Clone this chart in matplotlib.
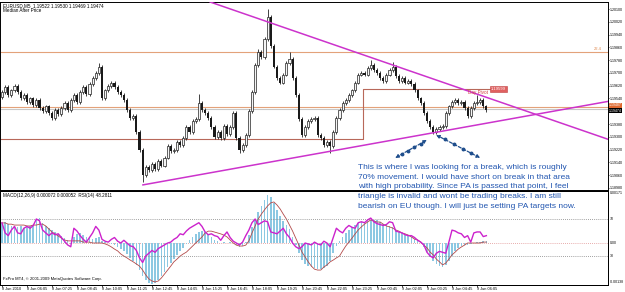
import numpy as np
import matplotlib
matplotlib.use("Agg")
import matplotlib.pyplot as plt

W, H = 625, 292

# ---- EURUSD M5 chart, drawn as 10-minute candles from 8 Jun 04:45 ----
first_open = 1.1955
closes = [
    1.1958, 1.1961, 1.1956, 1.1959, 1.1962, 1.1958, 1.1954, 1.1956, 1.1952, 1.1954,
    1.1950, 1.1953, 1.1948, 1.1946, 1.1949, 1.1945, 1.1942, 1.1947, 1.1944, 1.1948,
    1.1951, 1.1947, 1.1953, 1.1956, 1.1952, 1.1958, 1.1961, 1.1957, 1.1963, 1.1967,
    1.1970, 1.1974, 1.1954, 1.1959, 1.1962, 1.1964, 1.1961, 1.1958, 1.1956, 1.1953,
    1.1947, 1.1942, 1.1943, 1.1933, 1.1922, 1.1906, 1.1911, 1.1909, 1.1913, 1.1910,
    1.1915, 1.1912, 1.1917, 1.1924, 1.1921, 1.1922, 1.1927, 1.1925, 1.1929, 1.1936,
    1.1933, 1.1940, 1.1941, 1.1951, 1.1947, 1.1945, 1.1942, 1.1936, 1.1930, 1.1933,
    1.1929, 1.1937, 1.1932, 1.1936, 1.1945, 1.1929, 1.1922, 1.1925, 1.1931, 1.1946,
    1.1958, 1.1975, 1.1983, 1.1980, 1.1991, 1.2005, 1.1987, 1.1974, 1.1967, 1.1964,
    1.1969, 1.1976, 1.1979, 1.1967, 1.1956, 1.1941, 1.1931, 1.1936, 1.1940, 1.1941,
    1.1942, 1.1931, 1.1929, 1.1925, 1.1927, 1.1924, 1.1933, 1.1942, 1.1947, 1.1951,
    1.1953, 1.1956, 1.1959, 1.1964, 1.1969, 1.1970, 1.1969, 1.1973, 1.1975, 1.1972,
    1.1970, 1.1967, 1.1965, 1.1969, 1.1972, 1.1974, 1.1968, 1.1965, 1.1967, 1.1964,
    1.1965, 1.1963, 1.1959, 1.1954, 1.1951, 1.1945, 1.1940, 1.1936, 1.1933, 1.1935,
    1.1936, 1.1937, 1.1945, 1.1949, 1.1952, 1.1953, 1.1951, 1.1952, 1.1948, 1.1943,
    1.1948, 1.1951, 1.1952, 1.1953, 1.1949, 1.1947,
]
spike_highs = {31: 1.1976, 63: 1.1957, 82: 1.1985, 85: 1.2010, 92: 1.1983,
               118: 1.1978, 125: 1.1977, 152: 1.1956}
spike_lows = {45: 1.1902, 76: 1.1920, 105: 1.1920, 139: 1.1932}

# MACD(12,26,9) main (histogram) and signal, in 1e-5 units
macd_e5 = [
    66, 69, 62, 56, 53, 53, 56, 49, 53, 56,
    59, 79, 82, 66, 56, 49, 43, 36, 30, 23,
    16, 10, -3, 20, 30, 33, 26, 20, 16, 13,
    16, 20, 7, 3, 0, -3, -7, -13, -20, -26,
    -36, -49, -59, -72, -89, -109, -122, -132, -135, -132,
    -122, -109, -95, -79, -66, -53, -39, -26, -16, -3,
    10, 20, 30, 36, 39, 36, 30, 20, 10, 7,
    0, 3, 0, 3, 0, -7, -13, -10, 3, 26,
    53, 79, 102, 122, 141, 158, 151, 132, 109, 89,
    72, 59, 46, 20, -7, -33, -56, -69, -76, -79,
    -82, -86, -86, -82, -76, -59, -33, -10, 7, 20,
    33, 43, 53, 59, 66, 69, 69, 72, 76, 76,
    76, 69, 62, 59, 56, 53, 43, 36, 33, 26,
    23, 20, 13, 7, 0, -13, -30, -46, -59, -69,
    -76, -79, -72, -59, -43, -26, -16, -10, -7, -7,
    -3, 0, 3, 3, 7, 7,
]
signal_e5 = [
    66, 66, 62, 62, 59, 59, 59, 59, 56, 56,
    59, 59, 62, 62, 56, 46, 36, 30, 23, 16,
    10, 7, 7, 7, 7, 7, 3, 3, 3, 0,
    0, 0, 0, -3, -7, -13, -20, -26, -36, -43,
    -49, -56, -62, -69, -76, -89, -105, -118, -125, -128,
    -125, -115, -102, -89, -76, -62, -53, -43, -36, -30,
    -20, -10, 0, 10, 20, 33, 39, 39, 36, 33,
    30, 26, 20, 10, 0, -7, -10, -10, -7, 7,
    33, 56, 79, 95, 109, 122, 132, 135, 125, 112,
    95, 79, 59, 39, 16, -7, -30, -46, -62, -76,
    -86, -89, -89, -79, -72, -62, -56, -49, -43, -26,
    -10, 3, 16, 30, 43, 53, 62, 69, 76, 72,
    69, 69, 62, 56, 53, 49, 43, 39, 33, 30,
    26, 20, 13, 10, 3, -7, -16, -30, -39, -53,
    -62, -72, -66, -53, -39, -30, -20, -13, -7, 0,
    0, 0, 0, 0, 3, 3,
]
rsi = [
    66, 55, 52, 58, 62, 55, 54, 60, 62, 60,
    63, 70, 68, 58, 55, 52, 55, 53, 54, 50,
    46, 42, 40, 60, 57, 52, 48, 45, 50, 55,
    62, 58, 48, 46, 45, 48, 50, 46, 44, 47,
    44, 41, 40, 36, 28, 23, 30, 33, 36, 34,
    38, 40, 42, 44, 45, 48, 50, 54, 53, 57,
    60, 62, 64, 66, 62, 56, 53, 54, 52, 51,
    47, 52, 56, 50, 46, 44, 42, 45, 52, 58,
    66, 70, 64, 66, 68, 67, 56, 55, 54, 57,
    60, 54, 50, 44, 40, 38, 40, 44, 43, 42,
    45, 43, 42, 46, 44, 40, 50, 60, 57, 55,
    60, 63, 61, 60, 66, 67, 66, 69, 71, 67,
    65, 64, 63, 64, 67, 66, 57, 56, 55, 53,
    52, 52, 50, 47, 45, 42, 34, 30, 28, 33,
    35, 34, 33, 45, 58, 57, 55, 54, 50, 52,
    45, 55, 56, 56, 51, 52,
]

# horizontal levels and trend lines
level_r = 1.19831
level_s = 1.19487
bid = 1.19474
pivot_prev = 1.19287
pivot_day = 1.19599
day_start = 115.5
pivot_end = 156.2
upper_tl = ([66.6, 194.6], [1.20144, 1.19280])
lower_tl = ([45.1, 194.6], [1.18999, 1.19524])

price_ticks = [1.20100, 1.20020, 1.19940, 1.19860, 1.19780, 1.19700, 1.19620, 1.19540,
               1.19460, 1.19380, 1.19300, 1.19220, 1.19140, 1.19060, 1.18980]
time_labels = ["8 Jun 2010", "8 Jun 06:05", "8 Jun 07:25", "8 Jun 08:45", "8 Jun 10:05",
               "8 Jun 11:25", "8 Jun 12:45", "8 Jun 14:05", "8 Jun 15:25", "8 Jun 16:45",
               "8 Jun 18:05", "8 Jun 19:25", "8 Jun 20:45", "8 Jun 22:05", "8 Jun 23:25",
               "9 Jun 00:45", "9 Jun 02:05", "9 Jun 03:25", "9 Jun 04:45", "9 Jun 06:05"]

note = ("This is where I was looking for a break, which is roughly\n"
        "70% movement. I would have short on break in that area\n"
        "with high probability. Since PA is passed that point, I feel\n"
        "triangle is invalid and wont be trading breaks. I am still\n"
        "bearish on EU though. I will just be setting PA targets now.")

plt.rcParams['font.family'] = ['Liberation Sans', 'DejaVu Sans']

fig = plt.figure(figsize=(W / 100, H / 100), dpi=100)
fig.patch.set_facecolor('white')


def px_axes(l, t, r, b):
    return fig.add_axes([l / W, 1 - b / H, (r - l) / W, (b - t) / H])


RIGHT = 608
XLIM = (-0.64, (RIGHT - 2) / 3.125)

# ---------------- main price window ----------------
ax = px_axes(0, 2, RIGHT, 190)
ax.set_xlim(*XLIM)
ax.set_ylim(1.18967, 1.20144)

closes = np.array(closes)
opens = np.r_[first_open, closes[:-1]]
idx = np.arange(len(closes))
wick = 0.00012
highs = np.maximum(opens, closes) + wick
lows = np.minimum(opens, closes) - wick
for k, v in spike_highs.items():
    highs[k] = v
for k, v in spike_lows.items():
    lows[k] = v
up = closes >= opens
body = np.maximum(np.abs(closes - opens), 0.00002)

ax.vlines(idx, lows, highs, color='#222222', lw=0.6, zorder=3)
ax.bar(idx[up], body[up], bottom=opens[up], width=0.7, facecolor='#f4f4f4',
       edgecolor='#222222', lw=0.5, zorder=4)
ax.bar(idx[~up], body[~up], bottom=closes[~up], width=0.7, color='#1a1a1a', zorder=4)

ax.axhline(level_r, color='#e3a27a', lw=0.8, zorder=2)
ax.axhline(level_s, color='#e3a27a', lw=0.8, zorder=2)
ax.axhline(bid, color='#c8c8c8', lw=0.8, zorder=1)
ax.plot([XLIM[0], day_start, day_start, pivot_end],
        [pivot_prev, pivot_prev, pivot_day, pivot_day], color='#b8685a', lw=0.8, zorder=2)
ax.text(155.5, pivot_day - 0.00003, 'Day Pivot', color='#d04040', fontsize=3.3,
        ha='right', va='top', zorder=6)
ax.text(156.5, pivot_day, '1.19599', color='white', fontsize=3, ha='left', va='center',
        bbox=dict(boxstyle='square,pad=0.15', fc='#e06060', ec='#c04040', lw=0.4), zorder=6)
ax.text(192, level_r + 0.00004, '22.4', color='#e08a50', fontsize=3, ha='right',
        va='bottom', zorder=6)

ax.plot(*upper_tl, color='#cc33cc', lw=1.1, zorder=5)
ax.plot(*lower_tl, color='#cc33cc', lw=1.1, zorder=5)

# annotation arrows
arrow_col = '#1f4e8c'
for tail, head in [((125.8, 1.19168), (136.0, 1.19280)),
                   ((153.0, 1.19168), (138.9, 1.19312))]:
    ax.annotate('', xy=head, xytext=tail,
                arrowprops=dict(arrowstyle='<|-|>', color=arrow_col, lw=0.9,
                                linestyle=(0, (2.5, 1.5)), mutation_scale=5,
                                shrinkA=0, shrinkB=0), zorder=7)
    t = np.linspace(0.2, 0.8, 4)
    ax.plot(tail[0] + (head[0] - tail[0]) * t, tail[1] + (head[1] - tail[1]) * t,
            'o', ms=1.8, color=arrow_col, zorder=7)

ax.yaxis.tick_right()
ax.set_yticks(price_ticks)
ax.set_yticklabels([f'{p:.5f}' for p in price_ticks])
ax.tick_params(axis='y', labelsize=2.6, length=1, width=0.5, pad=0.5)
ax.set_xticks([])
for s in ax.spines.values():
    s.set_linewidth(0.7)

# price labels on the scale
ax.text(1.002, level_s + 0.0001, '1.19487', transform=ax.get_yaxis_transform(),
        fontsize=2.5, color='white', va='center', ha='left',
        bbox=dict(boxstyle='square,pad=0.1', fc='#e06a30', ec='none'), zorder=8, clip_on=False)
ax.text(1.002, bid - 0.0001, '1.19474', transform=ax.get_yaxis_transform(),
        fontsize=2.5, color='white', va='center', ha='left',
        bbox=dict(boxstyle='square,pad=0.1', fc='black', ec='none'), zorder=8, clip_on=False)

fig.text(3 / W, 1 - 3 / H, 'EURUSD,M5  1.19522 1.19530 1.19469 1.19474', fontsize=3.3,
         va='top', ha='left')
fig.text(3 / W, 1 - 8 / H, 'Median After Price', fontsize=3.3, va='top', ha='left')

# ---------------- MACD + RSI window ----------------
axm = px_axes(0, 191, RIGHT, 285)
axm.set_xlim(*XLIM)
axm.set_ylim(-0.001381, 0.00171)
axm.bar(idx, np.array(macd_e5) * 1e-5, width=0.5, color='#8cc8e2', lw=0, zorder=2)
axm.plot(idx, np.array(signal_e5) * 1e-5, color='#b24a4a', lw=0.6, zorder=3)
axm.axhline(0, color='#e09090', ls=(0, (1, 1.5)), lw=0.6, zorder=1)

axr = axm.twinx()
axr.set_ylim(-1.35, 100.27)
axr.axhline(70, color='#808080', ls=(0, (1, 1.5)), lw=0.6)
axr.axhline(30, color='#808080', ls=(0, (1, 1.5)), lw=0.6)
axr.plot(idx, rsi, color='#cc22cc', lw=1.0, zorder=4)
axr.set_yticks([])
axm.set_yticks([])

axm.set_xticks(np.arange(0, 8 * len(time_labels), 8))
axm.set_xticklabels(time_labels, ha='left')
axm.tick_params(axis='x', labelsize=2.8, length=1.2, width=0.5, pad=0.4)
for s in list(axm.spines.values()) + list(axr.spines.values()):
    s.set_linewidth(0.7)

fig.text(3 / W, 1 - 193 / H, 'MACD(12,26,9) 0.000072 0.000052  RSI(14) 48.2811',
         fontsize=3.3, va='top', ha='left')
fig.text(3 / W, 1 - 279 / H, 'FxPro MT4, \u00a9 2001-2009 MetaQuotes Software Corp.',
         fontsize=3, va='center', ha='left')
for ypx, lab in [(193, '0.00171'), (219, '70'), (243, '0.00'), (256, '30'), (282, '-0.00138')]:
    fig.text((RIGHT + 2) / W, 1 - ypx / H, lab, fontsize=2.5, va='center', ha='left')

# blue comment text drawn on top of everything
fig.text(358 / W, 1 - 164 / H, note, fontsize=6, color='#2256b0', va='top', ha='left',
         linespacing=1.55, zorder=20)

fig.savefig('out.png', dpi=100, facecolor='white')
